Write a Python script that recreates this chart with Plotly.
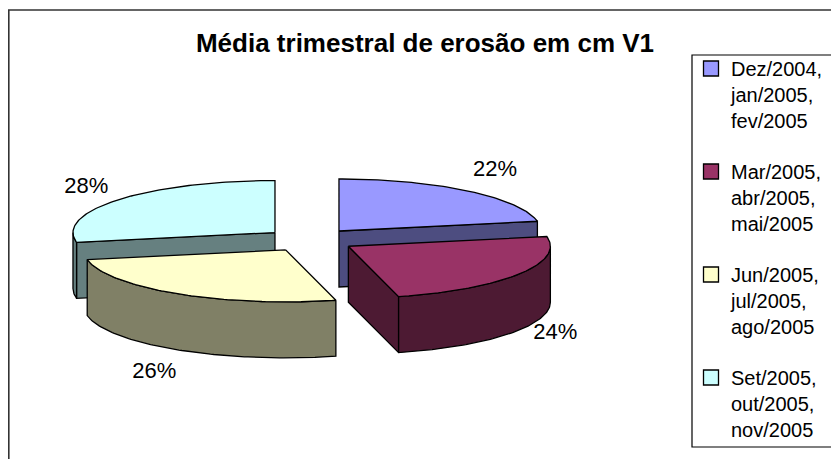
import math
import plotly.graph_objects as go

# ---- data ----
periods = ["Dez/2004,<br>jan/2005,<br>fev/2005",
           "Mar/2005,<br>abr/2005,<br>mai/2005",
           "Jun/2005,<br>jul/2005,<br>ago/2005",
           "Set/2005,<br>out/2005,<br>nov/2005"]
shares = [22, 24, 26, 28]
top_colors = ["#9999FF", "#993366", "#FFFFCC", "#CCFFFF"]
side_colors = ["#4D4D80", "#4D1A33", "#808066", "#668080"]
title_text = "Média trimestral de erosão em cm V1"

# ---- page / layout constants ----
PAGE_W, PAGE_H = 839, 459
OFF = 8                      # default body margin of the page
W, H = PAGE_W, PAGE_H        # figure overflows window by OFF (clipped)
FONT = "Liberation Sans, Arial, sans-serif"


def px(x):
    return (x - OFF) / W


def py(y):
    return 1 - (y - OFF) / H


# ---- 3D pie geometry (axis units = page pixels) ----
CX, CY = 310, 240          # pie centre
RX, RY = 202, 52           # top-face ellipse radii
DEPTH = 56                 # slab thickness
EXPLODE = 0.225            # explosion as fraction of radius
LAB_RX, LAB_RY, LAB_DY = 245, 113, 27


def pt(cx, cy, ang):
    a = math.radians(ang)
    return cx + RX * math.sin(a), cy - RY * math.cos(a)


def arc(cx, cy, a0, a1, n_per_deg=1):
    n = max(2, int(abs(a1 - a0) * n_per_deg) + 1)
    return [pt(cx, cy, a0 + (a1 - a0) * i / (n - 1)) for i in range(n)]


total = float(sum(shares))
slices = []
start = 0.0
for i, v in enumerate(shares):
    span = 360.0 * v / total
    a0, a1 = start, start + span
    mid = math.radians((a0 + a1) / 2)
    cx = CX + EXPLODE * RX * math.sin(mid)
    cy = CY - EXPLODE * RY * math.cos(mid)
    slices.append(dict(i=i, a0=a0, a1=a1, cx=cx, cy=cy, mid=mid))
    start = a1

fig = go.Figure()


def poly(points, fill, group):
    xs = [p[0] for p in points] + [points[0][0]]
    ys = [p[1] for p in points] + [points[0][1]]
    fig.add_trace(go.Scatter(x=xs, y=ys, mode="lines", fill="toself",
                             fillcolor=fill, line=dict(color="black", width=1.3),
                             showlegend=False, legendgroup=group,
                             hoverinfo="skip"))


# back slices first
for s in sorted(slices, key=lambda d: d["cy"]):
    i, a0, a1, cx, cy = s["i"], s["a0"], s["a1"], s["cx"], s["cy"]
    g = f"g{i}"
    side = side_colors[i]
    n0 = math.radians(a0 - 90)
    if -math.cos(n0) > 1e-6:
        p = pt(cx, cy, a0)
        poly([(cx, cy), p, (p[0], p[1] + DEPTH), (cx, cy + DEPTH)], side, g)
    n1 = math.radians(a1 + 90)
    if -math.cos(n1) > 1e-6:
        p = pt(cx, cy, a1)
        poly([(cx, cy), p, (p[0], p[1] + DEPTH), (cx, cy + DEPTH)], side, g)
    lo, hi = max(a0, 90.0), min(a1, 270.0)
    if hi > lo:
        top = arc(cx, cy, lo, hi)
        bot = [(x, y + DEPTH) for x, y in reversed(top)]
        poly(top + bot, side, g)
    poly([(cx, cy)] + arc(cx, cy, a0, a1), top_colors[i], g)

# percentage labels
lab_x, lab_y, lab_t = [], [], []
for s in slices:
    lab_x.append(s["cx"] + LAB_RX * math.sin(s["mid"]))
    lab_y.append(s["cy"] - LAB_RY * math.cos(s["mid"]) + LAB_DY)
    lab_t.append(f"{shares[s['i']] / total:.0%}")
fig.add_trace(go.Scatter(x=lab_x, y=lab_y, text=lab_t, mode="text",
                         textfont=dict(family=FONT, size=22, color="black"),
                         showlegend=False, hoverinfo="skip"))

# legend entries
for i, name in enumerate(periods):
    fig.add_trace(go.Scatter(x=[None], y=[None], mode="markers", name=name,
                             legendgroup=f"g{i}",
                             marker=dict(symbol="square", size=15,
                                         color=top_colors[i],
                                         line=dict(color="black", width=1.3))))

fig.update_layout(
    width=W, height=H,
    margin=dict(l=0, r=0, t=0, b=0, autoexpand=False),
    paper_bgcolor="white", plot_bgcolor="white",
    font=dict(family=FONT, size=20, color="black"),
    xaxis=dict(range=[OFF, OFF + W], visible=False, fixedrange=True),
    yaxis=dict(range=[OFF + H, OFF], visible=False, fixedrange=True),
    title=dict(text=f"<b>{title_text}</b>", x=px(425), xanchor="center",
               y=py(43), yanchor="middle",
               font=dict(family=FONT, size=26, color="black")),
    legend=dict(x=px(691), y=py(49), xanchor="left", yanchor="top",
                borderwidth=0, bgcolor="rgba(0,0,0,0)", valign="top",
                font=dict(family=FONT, size=20, color="black"),
                tracegroupgap=22, itemwidth=30),
    shapes=[
        dict(type="rect", xref="paper", yref="paper",
             x0=px(8.8), y0=-0.05, x1=1.05, y1=py(10),
             line=dict(color="#333333", width=1.6), layer="below"),
        dict(type="rect", xref="paper", yref="paper",
             x0=px(692), y0=py(447), x1=1.05, y1=py(55),
             line=dict(color="black", width=1.2), fillcolor="white",
             layer="below"),
    ],
)

fig.write_html("out.html")
